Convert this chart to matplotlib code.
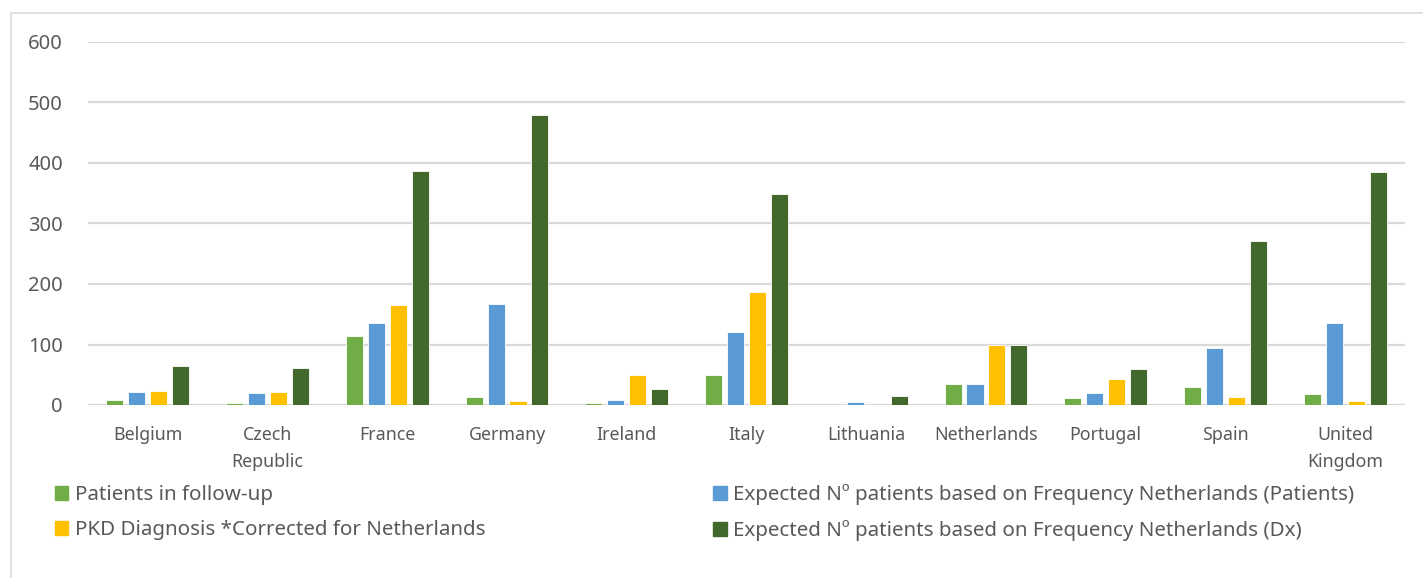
import matplotlib.pyplot as plt
from matplotlib.patches import Rectangle, Patch
import numpy as np

plt.rcParams['font.family'] = ['Noto Sans', 'DejaVu Sans']

# Data
countries = ["Belgium", "Czech\nRepublic", "France", "Germany", "Ireland", "Italy",
             "Lithuania", "Netherlands", "Portugal", "Spain", "United\nKingdom"]
followUp = [8, 3, 114, 13, 3, 50, 0.5, 35, 12, 29, 18]
expectedPatients = [22, 20, 135, 167, 9, 121, 5, 35, 20, 94, 135]
pkdDiagnosis = [23, 22, 166, 6, 50, 186, 0, 100, 43, 14, 6]
expectedDx = [65, 61, 387, 479, 27, 349, 15, 100, 59, 271, 385]

seriesNames = ["Patients in follow-up",
               "Expected Nº patients based on Frequency Netherlands (Patients)",
               "PKD Diagnosis *Corrected for Netherlands",
               "Expected Nº patients based on Frequency Netherlands (Dx)"]
colours = ["#70ad47", "#5b9bd5", "#ffc000", "#43682b"]
textColour = "#595959"
gridColour = "#d9d9d9"

fig = plt.figure(figsize=(14.23, 5.78), dpi=100)
ax = fig.add_axes([88/1423, 1-405/578, (1405-88)/1423, (405-42)/578])

x = np.arange(len(countries))
step = 0.183
width = 0.142
allSeries = [followUp, expectedPatients, pkdDiagnosis, expectedDx]
for i, vals in enumerate(allSeries):
    ax.bar(x + (i-1.5)*step, vals, width, color=colours[i], zorder=3,
           edgecolor="white", linewidth=0.6)

ax.set_xlim(-0.5, len(countries)-0.5)
ax.set_ylim(0, 600)
ax.set_yticks(range(0, 601, 100))
ax.yaxis.grid(True, color=gridColour, linewidth=1.6, zorder=0)
for spine in ax.spines.values():
    spine.set_visible(False)
ax.axhline(0, color=gridColour, linewidth=1.6, zorder=2)
ax.tick_params(axis="both", length=0, colors=textColour)
ax.tick_params(axis="y", labelsize=14.5, pad=18)
ax.tick_params(axis="x", labelsize=12.8, pad=15)
ax.set_xticks(x)
ax.set_xticklabels(countries, linespacing=1.65)

# Legend: one legend, two columns (column-wise fill order)
handles = [Patch(color=c) for c in colours]
order = [0, 2, 1, 3]
fig.legend([handles[i] for i in order], [seriesNames[i] for i in order],
           ncol=2, loc="upper left", bbox_to_anchor=(55/1423, 1-484/578),
           frameon=False, fontsize=14.8, labelcolor=textColour,
           handlelength=0.65, handleheight=0.65, handletextpad=0.3,
           labelspacing=0.75, columnspacing=11.1, borderaxespad=0, borderpad=0)

# Outer chart border
fig.patches.append(Rectangle((11/1423, -0.1), 1.2, 1.1-13/578, transform=fig.transFigure,
                             fill=False, edgecolor=gridColour, linewidth=1.2))

fig.savefig("out.png", dpi=100)
